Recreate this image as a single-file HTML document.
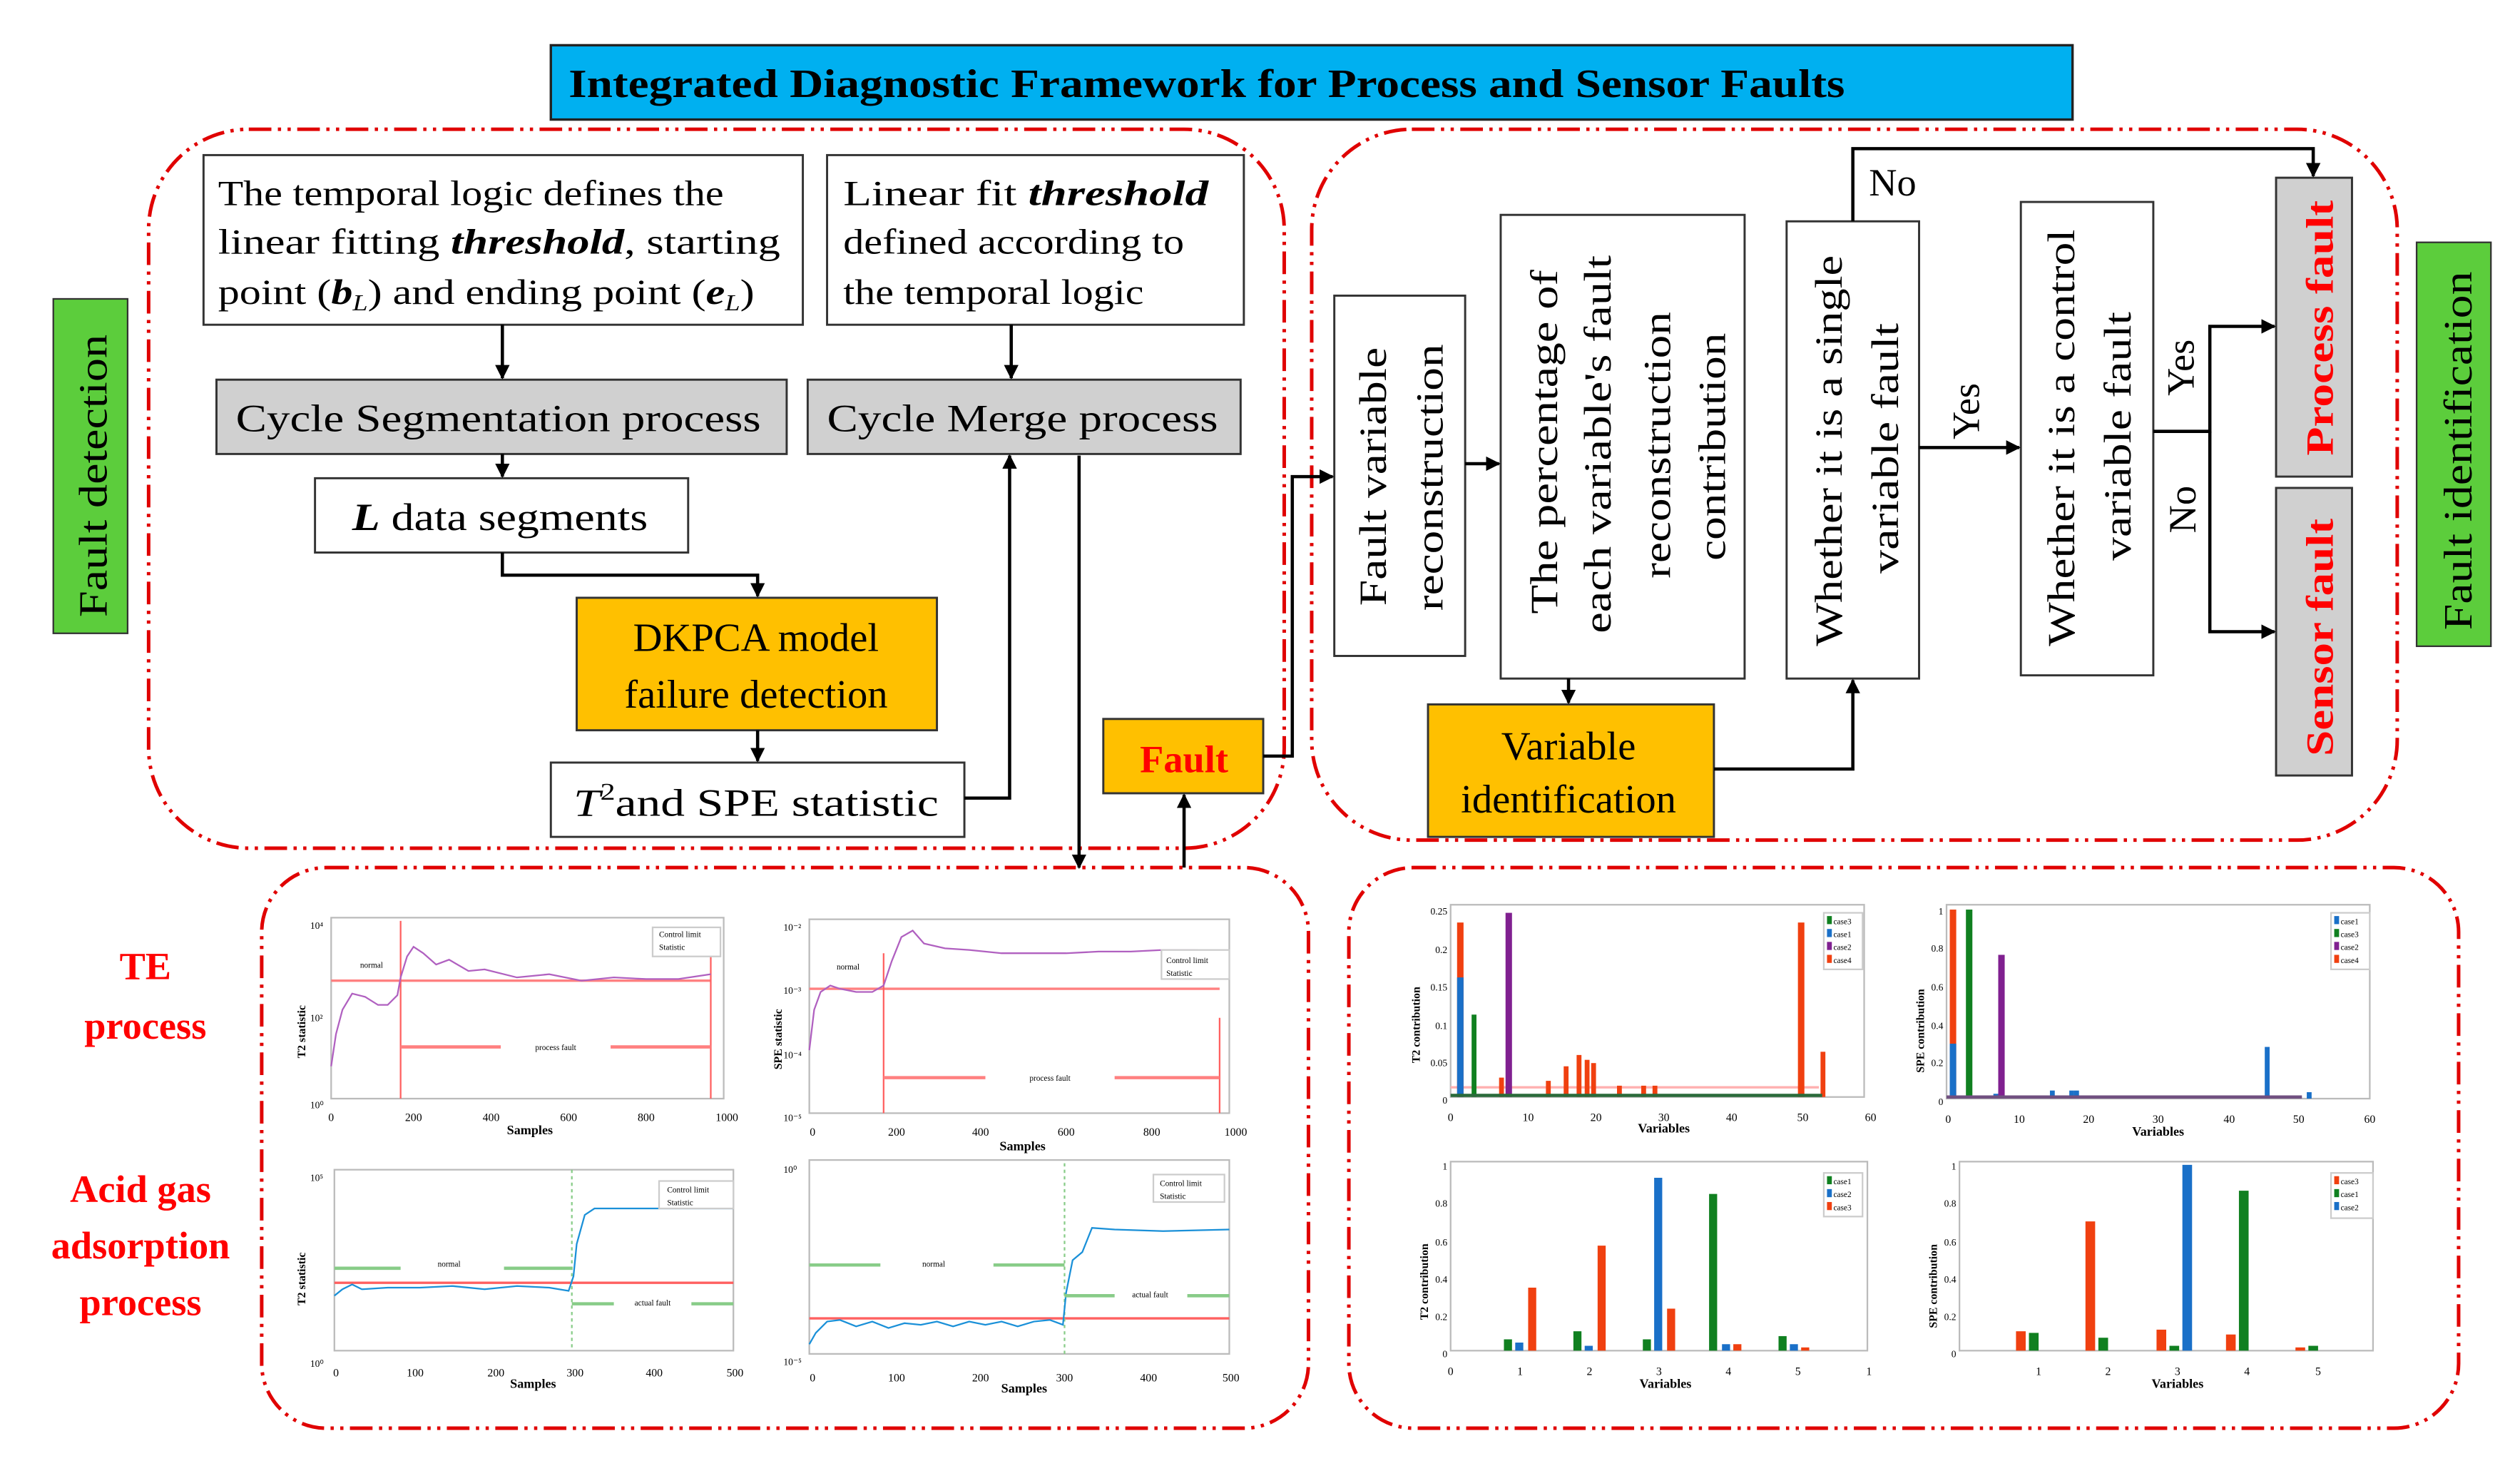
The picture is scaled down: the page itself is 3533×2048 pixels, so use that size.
<!DOCTYPE html>
<html><head><meta charset="utf-8"><style>
html,body{margin:0;padding:0;background:#fff}
svg{display:block}
text{font-family:"Liberation Serif",serif}
</style></head><body>
<svg width="3533" height="2048" viewBox="0 0 1560 904.3" preserveAspectRatio="none" xmlns="http://www.w3.org/2000/svg">
<defs>
<marker id="a" viewBox="0 0 10 10" refX="9" refY="5" markerWidth="4.5" markerHeight="4.5" orient="auto"><path d="M0,0 L10,5 L0,10 z" fill="#000"/></marker>
</defs>
<rect width="1560" height="905" fill="#fff"/>
<g fill="none" stroke="#e00000" stroke-width="2.2" stroke-dasharray="14 4 2 4 2 4">
<rect x="92" y="80" width="703" height="445" rx="62"/>
<rect x="812" y="80" width="672" height="440" rx="62"/>
<rect x="162" y="537" width="648" height="347" rx="40"/>
<rect x="835" y="537" width="687" height="347" rx="40"/>
</g>
<rect x="341" y="28" width="942" height="46" fill="#00b0f0" stroke="#222" stroke-width="1.5"/>
<text x="352" y="60" font-size="25" font-weight="bold" textLength="790" lengthAdjust="spacingAndGlyphs">Integrated Diagnostic Framework for Process and Sensor Faults</text>
<rect x="33" y="185" width="46" height="207" fill="#5ccd3c" stroke="#333" stroke-width="1"/>
<text transform="translate(66,382) rotate(-90)" font-size="25" textLength="175" lengthAdjust="spacingAndGlyphs">Fault detection</text>
<rect x="1496" y="150" width="46" height="250" fill="#5ccd3c" stroke="#333" stroke-width="1"/>
<text transform="translate(1530,390) rotate(-90)" font-size="25" textLength="222" lengthAdjust="spacingAndGlyphs">Fault identification</text>
<g stroke="#333" stroke-width="1.3">
<rect x="126" y="96" width="371" height="105" fill="#fff"/>
<rect x="512" y="96" width="258" height="105" fill="#fff"/>
<rect x="134" y="235" width="353" height="46" fill="#d0d0d0"/>
<rect x="500" y="235" width="268" height="46" fill="#d0d0d0"/>
<rect x="195" y="296" width="231" height="46" fill="#fff"/>
<rect x="357" y="370" width="223" height="82" fill="#ffc000"/>
<rect x="341" y="472" width="256" height="46" fill="#fff"/>
<rect x="683" y="445" width="99" height="46" fill="#ffc000"/>
<rect x="826" y="183" width="81" height="223" fill="#fff"/>
<rect x="929" y="133" width="151" height="287" fill="#fff"/>
<rect x="1106" y="137" width="82" height="283" fill="#fff"/>
<rect x="1251" y="125" width="82" height="293" fill="#fff"/>
<rect x="1409" y="110" width="47" height="185" fill="#d0d0d0"/>
<rect x="1409" y="302" width="47" height="178" fill="#d0d0d0"/>
<rect x="884" y="436" width="177" height="82" fill="#ffc000"/>
</g>
<g font-size="22">
<text x="135" y="127" textLength="313" lengthAdjust="spacingAndGlyphs">The temporal logic defines the</text>
<text x="135" y="157" textLength="348" lengthAdjust="spacingAndGlyphs">linear fitting <tspan font-weight="bold" font-style="italic">threshold</tspan>, starting</text>
<text x="135" y="188" textLength="332" lengthAdjust="spacingAndGlyphs">point (<tspan font-weight="bold" font-style="italic">b</tspan><tspan font-size="14" font-style="italic" dy="4">L</tspan><tspan dy="-4">) and ending point (</tspan><tspan font-weight="bold" font-style="italic">e</tspan><tspan font-size="14" font-style="italic" dy="4">L</tspan><tspan dy="-4">)</tspan></text>
<text x="522" y="127" textLength="226" lengthAdjust="spacingAndGlyphs">Linear fit <tspan font-weight="bold" font-style="italic">threshold</tspan></text>
<text x="522" y="157" textLength="211" lengthAdjust="spacingAndGlyphs">defined according to</text>
<text x="522" y="188" textLength="186" lengthAdjust="spacingAndGlyphs">the temporal logic</text>
<text x="146" y="267" font-size="24" textLength="325" lengthAdjust="spacingAndGlyphs">Cycle Segmentation process</text>
<text x="512" y="267" font-size="24" textLength="242" lengthAdjust="spacingAndGlyphs">Cycle Merge process</text>
<text x="218" y="328" font-size="24" textLength="183" lengthAdjust="spacingAndGlyphs"><tspan font-weight="bold" font-style="italic">L</tspan> data segments</text>
<text x="468" y="403" font-size="25" text-anchor="middle">DKPCA model</text>
<text x="468" y="438" font-size="25" text-anchor="middle">failure detection</text>
<text x="355" y="505" font-size="24" textLength="226" lengthAdjust="spacingAndGlyphs"><tspan font-style="italic">T</tspan><tspan font-size="15" dy="-10">2</tspan><tspan dy="10">and SPE statistic</tspan></text>
<text x="733" y="478" font-size="24" font-weight="bold" fill="#ff0000" text-anchor="middle">Fault</text>
<text x="971" y="470" font-size="25" text-anchor="middle">Variable</text>
<text x="971" y="503" font-size="25" text-anchor="middle">identification</text>
</g>
<g font-size="24">
<text transform="translate(858,375) rotate(-90)" textLength="160" lengthAdjust="spacingAndGlyphs">Fault variable</text>
<text transform="translate(893,378) rotate(-90)" textLength="165" lengthAdjust="spacingAndGlyphs">reconstruction</text>
<text transform="translate(964,380) rotate(-90)" textLength="213" lengthAdjust="spacingAndGlyphs">The percentage of</text>
<text transform="translate(997,392) rotate(-90)" textLength="234" lengthAdjust="spacingAndGlyphs">each variable's fault</text>
<text transform="translate(1034,358) rotate(-90)" textLength="165" lengthAdjust="spacingAndGlyphs">reconstruction</text>
<text transform="translate(1068,347) rotate(-90)" textLength="141" lengthAdjust="spacingAndGlyphs">contribution</text>
<text transform="translate(1140,400) rotate(-90)" textLength="242" lengthAdjust="spacingAndGlyphs">Whether it is a single</text>
<text transform="translate(1175,355) rotate(-90)" textLength="155" lengthAdjust="spacingAndGlyphs">variable fault</text>
<text transform="translate(1284,400) rotate(-90)" textLength="258" lengthAdjust="spacingAndGlyphs">Whether it is a control</text>
<text transform="translate(1319,347) rotate(-90)" textLength="154" lengthAdjust="spacingAndGlyphs">variable fault</text>
<text x="1157" y="121">No</text>
<text transform="translate(1225,272) rotate(-90)">Yes</text>
<text transform="translate(1358,245) rotate(-90)">Yes</text>
<text transform="translate(1359,330) rotate(-90)">No</text>
<text transform="translate(1444,282) rotate(-90)" font-weight="bold" fill="#ff0000" textLength="158" lengthAdjust="spacingAndGlyphs">Process fault</text>
<text transform="translate(1444,468) rotate(-90)" font-weight="bold" fill="#ff0000" textLength="147" lengthAdjust="spacingAndGlyphs">Sensor fault</text>
</g>
<g font-size="24" font-weight="bold" fill="#ff0000" text-anchor="middle">
<text x="90" y="606">TE</text>
<text x="90" y="643">process</text>
<text x="87" y="744">Acid gas</text>
<text x="87" y="779">adsorption</text>
<text x="87" y="814">process</text>
</g>
<g fill="none" stroke="#000" stroke-width="2" marker-end="url(#a)">
<path d="M311,201 V234"/>
<path d="M626,201 V234"/>
<path d="M311,281 V295"/>
<path d="M311,342 V356 H469 V369"/>
<path d="M469,452 V471"/>
<path d="M597,494 H625 V282"/>
<path d="M668,282 V537"/>
<path d="M733,537 V492"/>
<path d="M782,468 H800 V295 H825"/>
<path d="M907,287 H928"/>
<path d="M971,420 V435"/>
<path d="M1061,476 H1147 V421"/>
<path d="M1147,137 V92 H1432 V109"/>
<path d="M1188,277 H1250"/>
<path d="M1333,267 H1368 V202 H1408"/>
<path d="M1368,267 V391 H1408"/>
</g>
<g font-family="Liberation Sans,sans-serif">
<rect x="205" y="568" width="243" height="112" fill="#fff" stroke="#bbb"/>
<line x1="205" y1="607" x2="440" y2="607" stroke="#ff8080" stroke-width="1.5"/>
<line x1="248" y1="570" x2="248" y2="680" stroke="#ff6060"/>
<line x1="440" y1="580" x2="440" y2="680" stroke="#ff6060"/>
<polyline fill="none" stroke="#b060c0" stroke-width="1" points="205,660 208,640 212,625 218,615 226,617 234,622 240,622 246,616 248,605 252,592 256,586 262,590 270,597 278,594 290,601 300,600 320,605 340,603 360,607 380,605 400,606 420,606 440,603"/>
<line x1="248" y1="648" x2="310" y2="648" stroke="#ff8080" stroke-width="2"/><line x1="378" y1="648" x2="440" y2="648" stroke="#ff8080" stroke-width="2"/>
<text x="344" y="650" font-size="5" text-anchor="middle">process fault</text>
<text x="230" y="599" font-size="5" text-anchor="middle">normal</text>
<rect x="404" y="574" width="42" height="18" fill="#fff" stroke="#ccc"/>
<text x="408" y="580" font-size="5">Control limit</text><text x="408" y="588" font-size="5">Statistic</text>
<g font-size="7" text-anchor="middle"><text x="205" y="694">0</text><text x="256" y="694">200</text><text x="304" y="694">400</text><text x="352" y="694">600</text><text x="400" y="694">800</text><text x="450" y="694">1000</text></g>
<text x="328" y="702" font-size="8" font-weight="bold" text-anchor="middle">Samples</text>
<text transform="translate(189,655) rotate(-90)" font-size="7" font-weight="bold">T2 statistic</text>
<text x="192" y="575" font-size="6">10⁴</text><text x="192" y="632" font-size="6">10²</text><text x="192" y="686" font-size="6">10⁰</text>
<rect x="501" y="569" width="260" height="120" fill="#fff" stroke="#bbb"/>
<line x1="501" y1="612" x2="755" y2="612" stroke="#ff8080" stroke-width="1.5"/>
<line x1="547" y1="590" x2="547" y2="689" stroke="#ff6060"/>
<line x1="755" y1="630" x2="755" y2="689" stroke="#ff6060"/>
<polyline fill="none" stroke="#b060c0" stroke-width="1" points="501,650 504,625 508,614 514,610 520,612 530,614 540,614 547,610 552,595 558,580 565,576 572,584 585,587 600,588 620,590 640,590 660,590 680,589 700,589 720,588 740,588 760,590"/>
<line x1="547" y1="667" x2="610" y2="667" stroke="#ff8080" stroke-width="2"/><line x1="690" y1="667" x2="755" y2="667" stroke="#ff8080" stroke-width="2"/>
<text x="650" y="669" font-size="5" text-anchor="middle">process fault</text>
<text x="525" y="600" font-size="5" text-anchor="middle">normal</text>
<rect x="719" y="588" width="42" height="18" fill="#fff" stroke="#ccc"/>
<text x="722" y="596" font-size="5">Control limit</text><text x="722" y="604" font-size="5">Statistic</text>
<g font-size="7" text-anchor="middle"><text x="503" y="703">0</text><text x="555" y="703">200</text><text x="607" y="703">400</text><text x="660" y="703">600</text><text x="713" y="703">800</text><text x="765" y="703">1000</text></g>
<text x="633" y="712" font-size="8" font-weight="bold" text-anchor="middle">Samples</text>
<text transform="translate(484,662) rotate(-90)" font-size="7" font-weight="bold">SPE statistic</text>
<text x="485" y="576" font-size="6">10⁻²</text><text x="485" y="615" font-size="6">10⁻³</text><text x="485" y="655" font-size="6">10⁻⁴</text><text x="485" y="694" font-size="6">10⁻⁵</text>
<rect x="207" y="724" width="247" height="112" fill="#fff" stroke="#bbb"/>
<line x1="207" y1="794" x2="454" y2="794" stroke="#ff6060" stroke-width="1.5"/>
<line x1="354" y1="724" x2="354" y2="836" stroke="#8c8" stroke-dasharray="2 2"/>
<polyline fill="none" stroke="#1a90d8" stroke-width="1" points="207,802 212,798 218,795 224,798 240,797 260,797 280,796 300,798 320,796 340,797 352,799 355,790 357,770 362,752 368,748 400,748 430,748 454,748"/>
<line x1="207" y1="785" x2="248" y2="785" stroke="#8c8" stroke-width="2"/><line x1="312" y1="785" x2="354" y2="785" stroke="#8c8" stroke-width="2"/>
<line x1="354" y1="807" x2="380" y2="807" stroke="#8c8" stroke-width="2"/><line x1="428" y1="807" x2="454" y2="807" stroke="#8c8" stroke-width="2"/>
<text x="278" y="784" font-size="5" text-anchor="middle">normal</text><text x="404" y="808" font-size="5" text-anchor="middle">actual fault</text>
<rect x="408" y="731" width="46" height="17" fill="#fff" stroke="#ccc"/>
<text x="413" y="738" font-size="5">Control limit</text><text x="413" y="746" font-size="5">Statistic</text>
<g font-size="7" text-anchor="middle"><text x="208" y="852">0</text><text x="257" y="852">100</text><text x="307" y="852">200</text><text x="356" y="852">300</text><text x="405" y="852">400</text><text x="455" y="852">500</text></g>
<text x="330" y="859" font-size="8" font-weight="bold" text-anchor="middle">Samples</text>
<text transform="translate(189,808) rotate(-90)" font-size="7" font-weight="bold">T2 statistic</text>
<text x="192" y="731" font-size="6">10⁵</text><text x="192" y="846" font-size="6">10⁰</text>
<rect x="501" y="718" width="260" height="120" fill="#fff" stroke="#bbb"/>
<line x1="501" y1="816" x2="761" y2="816" stroke="#ff6060" stroke-width="1.5"/>
<line x1="659" y1="720" x2="659" y2="838" stroke="#8c8" stroke-dasharray="2 2"/>
<polyline fill="none" stroke="#1a90d8" stroke-width="1" points="501,832 505,825 512,818 520,817 530,821 540,818 550,822 560,819 570,820 580,818 590,821 600,818 610,820 620,818 630,821 640,818 650,817 658,820 660,800 664,780 670,775 676,760 690,761 720,762 761,761"/>
<line x1="501" y1="783" x2="545" y2="783" stroke="#8c8" stroke-width="2"/><line x1="615" y1="783" x2="659" y2="783" stroke="#8c8" stroke-width="2"/>
<line x1="659" y1="802" x2="690" y2="802" stroke="#8c8" stroke-width="2"/><line x1="735" y1="802" x2="761" y2="802" stroke="#8c8" stroke-width="2"/>
<text x="578" y="784" font-size="5" text-anchor="middle">normal</text><text x="712" y="803" font-size="5" text-anchor="middle">actual fault</text>
<rect x="714" y="727" width="44" height="17" fill="#fff" stroke="#ccc"/>
<text x="718" y="734" font-size="5">Control limit</text><text x="718" y="742" font-size="5">Statistic</text>
<g font-size="7" text-anchor="middle"><text x="503" y="855">0</text><text x="555" y="855">100</text><text x="607" y="855">200</text><text x="659" y="855">300</text><text x="711" y="855">400</text><text x="762" y="855">500</text></g>
<text x="634" y="862" font-size="8" font-weight="bold" text-anchor="middle">Samples</text>
<text x="485" y="726" font-size="6">10⁰</text><text x="485" y="845" font-size="6">10⁻⁵</text>
<rect x="898" y="560" width="256" height="119" fill="#fff" stroke="#bbb"/>
<line x1="898" y1="673" x2="1126" y2="673" stroke="#ffb0b0" stroke-width="1.5"/>
<rect x="902" y="571" width="4" height="108" fill="#f04010"/><rect x="902" y="605" width="4" height="74" fill="#1a70c8"/>
<rect x="911" y="628" width="3" height="51" fill="#108020"/>
<rect x="932" y="565" width="4" height="114" fill="#802090"/>
<rect x="928" y="667" width="3" height="12" fill="#f04010"/>
<rect x="957" y="669" width="3" height="10" fill="#f04010"/>
<rect x="968" y="660" width="3" height="19" fill="#f04010"/>
<rect x="976" y="653" width="3" height="26" fill="#f04010"/>
<rect x="981" y="656" width="3" height="23" fill="#f04010"/><rect x="985" y="658" width="3" height="21" fill="#f04010"/>
<rect x="1001" y="672" width="3" height="7" fill="#f04010"/>
<rect x="1016" y="672" width="3" height="7" fill="#f04010"/><rect x="1023" y="672" width="3" height="7" fill="#f04010"/>
<rect x="1113" y="571" width="4" height="108" fill="#f04010"/>
<rect x="1127" y="651" width="3" height="28" fill="#f04010"/>
<rect x="898" y="677" width="230" height="2" fill="#2a6a3a"/>
<rect x="1129" y="565" width="24" height="35" fill="#fff" stroke="#ccc"/>
<g font-size="5"><rect x="1131" y="567" width="3" height="5" fill="#108020"/><text x="1135" y="572">case3</text><rect x="1131" y="575" width="3" height="5" fill="#1a70c8"/><text x="1135" y="580">case1</text><rect x="1131" y="583" width="3" height="5" fill="#802090"/><text x="1135" y="588">case2</text><rect x="1131" y="591" width="3" height="5" fill="#f04010"/><text x="1135" y="596">case4</text></g>
<g font-size="7" text-anchor="middle"><text x="898" y="694">0</text><text x="946" y="694">10</text><text x="988" y="694">20</text><text x="1030" y="694">30</text><text x="1072" y="694">40</text><text x="1116" y="694">50</text><text x="1158" y="694">60</text></g>
<text x="1030" y="701" font-size="8" font-weight="bold" text-anchor="middle">Variables</text>
<text transform="translate(879,658) rotate(-90)" font-size="7" font-weight="bold">T2 contribution</text>
<g font-size="6" text-anchor="end"><text x="896" y="566">0.25</text><text x="896" y="590">0.2</text><text x="896" y="613">0.15</text><text x="896" y="637">0.1</text><text x="896" y="660">0.05</text><text x="896" y="683">0</text></g>
<rect x="1205" y="560" width="262" height="120" fill="#fff" stroke="#bbb"/>
<rect x="1207" y="563" width="4" height="117" fill="#f04010"/><rect x="1207" y="646" width="4" height="34" fill="#1a70c8"/>
<rect x="1217" y="563" width="4" height="117" fill="#108020"/>
<rect x="1237" y="591" width="4" height="89" fill="#802090"/>
<rect x="1234" y="677" width="3" height="3" fill="#1a70c8"/>
<rect x="1269" y="675" width="3" height="5" fill="#1a70c8"/><rect x="1281" y="675" width="3" height="5" fill="#1a70c8"/><rect x="1284" y="675" width="3" height="5" fill="#1a70c8"/>
<rect x="1402" y="648" width="3" height="32" fill="#1a70c8"/><rect x="1428" y="676" width="3" height="4" fill="#1a70c8"/>
<rect x="1205" y="678" width="220" height="2" fill="#705080"/>
<rect x="1443" y="565" width="24" height="35" fill="#fff" stroke="#ccc"/>
<g font-size="5"><rect x="1445" y="567" width="3" height="5" fill="#1a70c8"/><text x="1449" y="572">case1</text><rect x="1445" y="575" width="3" height="5" fill="#108020"/><text x="1449" y="580">case3</text><rect x="1445" y="583" width="3" height="5" fill="#802090"/><text x="1449" y="588">case2</text><rect x="1445" y="591" width="3" height="5" fill="#f04010"/><text x="1449" y="596">case4</text></g>
<g font-size="7" text-anchor="middle"><text x="1206" y="695">0</text><text x="1250" y="695">10</text><text x="1293" y="695">20</text><text x="1336" y="695">30</text><text x="1380" y="695">40</text><text x="1423" y="695">50</text><text x="1467" y="695">60</text></g>
<text x="1336" y="703" font-size="8" font-weight="bold" text-anchor="middle">Variables</text>
<text transform="translate(1191,664) rotate(-90)" font-size="7" font-weight="bold">SPE contribution</text>
<g font-size="6" text-anchor="end"><text x="1203" y="566">1</text><text x="1203" y="589">0.8</text><text x="1203" y="613">0.6</text><text x="1203" y="637">0.4</text><text x="1203" y="660">0.2</text><text x="1203" y="684">0</text></g>
<rect x="898" y="719" width="258" height="117" fill="#fff" stroke="#bbb"/>
<rect x="931" y="829" width="5" height="7" fill="#108020"/><rect x="938" y="831" width="5" height="5" fill="#1a70c8"/><rect x="946" y="797" width="5" height="39" fill="#f04010"/>
<rect x="974" y="824" width="5" height="12" fill="#108020"/><rect x="981" y="833" width="5" height="3" fill="#1a70c8"/><rect x="989" y="771" width="5" height="65" fill="#f04010"/>
<rect x="1017" y="829" width="5" height="7" fill="#108020"/><rect x="1024" y="729" width="5" height="107" fill="#1a70c8"/><rect x="1032" y="810" width="5" height="26" fill="#f04010"/>
<rect x="1058" y="739" width="5" height="97" fill="#108020"/><rect x="1066" y="832" width="5" height="4" fill="#1a70c8"/><rect x="1073" y="832" width="5" height="4" fill="#f04010"/>
<rect x="1101" y="827" width="5" height="9" fill="#108020"/><rect x="1108" y="832" width="5" height="4" fill="#1a70c8"/><rect x="1115" y="834" width="5" height="2" fill="#f04010"/>
<rect x="1129" y="726" width="24" height="27" fill="#fff" stroke="#ccc"/>
<g font-size="5"><rect x="1131" y="728" width="3" height="5" fill="#108020"/><text x="1135" y="733">case1</text><rect x="1131" y="736" width="3" height="5" fill="#1a70c8"/><text x="1135" y="741">case2</text><rect x="1131" y="744" width="3" height="5" fill="#f04010"/><text x="1135" y="749">case3</text></g>
<g font-size="7" text-anchor="middle"><text x="898" y="851">0</text><text x="941" y="851">1</text><text x="984" y="851">2</text><text x="1027" y="851">3</text><text x="1070" y="851">4</text><text x="1113" y="851">5</text><text x="1157" y="851">1</text></g>
<text x="1031" y="859" font-size="8" font-weight="bold" text-anchor="middle">Variables</text>
<text transform="translate(884,817) rotate(-90)" font-size="7" font-weight="bold">T2 contribution</text>
<g font-size="6" text-anchor="end"><text x="896" y="724">1</text><text x="896" y="747">0.8</text><text x="896" y="771">0.6</text><text x="896" y="794">0.4</text><text x="896" y="817">0.2</text><text x="896" y="840">0</text></g>
<rect x="1213" y="719" width="256" height="117" fill="#fff" stroke="#bbb"/>
<rect x="1248" y="824" width="6" height="12" fill="#f04010"/><rect x="1256" y="825" width="6" height="11" fill="#108020"/>
<rect x="1291" y="756" width="6" height="80" fill="#f04010"/><rect x="1299" y="828" width="6" height="8" fill="#108020"/>
<rect x="1335" y="823" width="6" height="13" fill="#f04010"/><rect x="1343" y="833" width="6" height="3" fill="#108020"/><rect x="1351" y="721" width="6" height="115" fill="#1a70c8"/>
<rect x="1378" y="826" width="6" height="10" fill="#f04010"/><rect x="1386" y="737" width="6" height="99" fill="#108020"/>
<rect x="1421" y="834" width="6" height="2" fill="#f04010"/><rect x="1429" y="833" width="6" height="3" fill="#108020"/>
<rect x="1443" y="726" width="26" height="28" fill="#fff" stroke="#ccc"/>
<g font-size="5"><rect x="1445" y="728" width="3" height="5" fill="#f04010"/><text x="1449" y="733">case3</text><rect x="1445" y="736" width="3" height="5" fill="#108020"/><text x="1449" y="741">case1</text><rect x="1445" y="744" width="3" height="5" fill="#1a70c8"/><text x="1449" y="749">case2</text></g>
<g font-size="7" text-anchor="middle"><text x="1262" y="851">1</text><text x="1305" y="851">2</text><text x="1348" y="851">3</text><text x="1391" y="851">4</text><text x="1435" y="851">5</text></g>
<text x="1348" y="859" font-size="8" font-weight="bold" text-anchor="middle">Variables</text>
<text transform="translate(1199,822) rotate(-90)" font-size="7" font-weight="bold">SPE contribution</text>
<g font-size="6" text-anchor="end"><text x="1211" y="724">1</text><text x="1211" y="747">0.8</text><text x="1211" y="771">0.6</text><text x="1211" y="794">0.4</text><text x="1211" y="817">0.2</text><text x="1211" y="840">0</text></g>
</g>
</svg>
</body></html>
